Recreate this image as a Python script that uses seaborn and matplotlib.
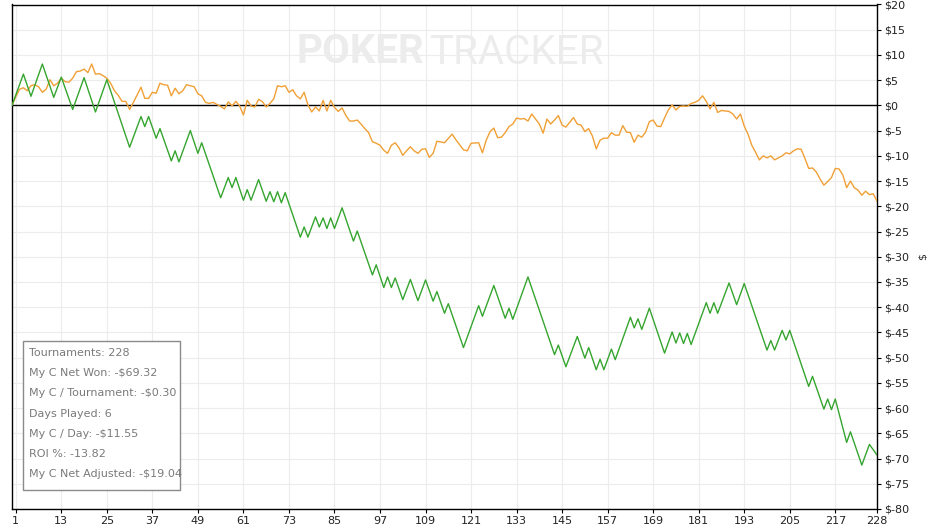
import matplotlib
matplotlib.use("Agg")
import matplotlib.pyplot as plt
import seaborn as sns
from matplotlib.patches import Rectangle

# Cumulative "My C Net Won" (green) - turning points
green_x = [0, 3, 5, 8, 11, 13, 16, 19, 22, 25, 31, 34, 35, 36, 38, 39, 42, 43, 44, 47,
           49, 50, 55, 57, 58, 59, 61, 62, 63, 65, 67, 68, 69, 70, 71, 72, 76, 77, 78, 80,
           81, 82, 83, 84, 85, 87, 90, 91, 95, 96, 98, 99, 100, 101, 103, 105, 107, 109, 111, 112,
           114, 115, 119, 123, 124, 127, 130, 131, 132, 136, 143, 144, 146, 149, 151, 152, 154, 155, 156, 158,
           159, 163, 164, 165, 166, 168, 172, 174, 175, 176, 177, 178, 179, 183, 184, 185, 186, 189, 191, 193,
           199, 200, 201, 203, 204, 205, 210, 211, 214, 215, 216, 217, 220, 221, 224, 226, 228]
green_y = [0, 6.2, 1.8, 8.2, 1.6, 5.6, -0.8, 5.5, -1.3, 5.1, -8.3, -2.2, -4.2, -2.2, -6.5, -4.6, -11.0, -9.0, -11.2, -5.0,
           -9.5, -7.4, -18.3, -14.3, -16.3, -14.3, -18.8, -16.7, -18.8, -14.7, -19.0, -17.1, -19.1, -17.1, -19.3, -17.3, -26.1, -24.1, -26.1, -22.1,
           -24.1, -22.3, -24.4, -22.3, -24.4, -20.3, -26.9, -24.9, -33.6, -31.6, -36.1, -34.0, -36.1, -34.2, -38.5, -34.5, -38.7, -34.6, -38.8, -36.9,
           -41.2, -39.3, -48.0, -39.7, -41.8, -35.7, -42.2, -40.2, -42.4, -34.0, -49.4, -47.5, -51.8, -45.8, -50.1, -48.0, -52.4, -50.3, -52.4, -48.3,
           -50.4, -42.0, -44.1, -42.3, -44.4, -40.2, -49.1, -44.9, -47.1, -45.1, -47.2, -45.2, -47.4, -39.1, -41.2, -39.1, -41.2, -35.2, -39.5, -35.3,
           -48.5, -46.6, -48.5, -44.6, -46.5, -44.6, -55.7, -53.7, -60.2, -58.2, -60.3, -58.2, -66.8, -64.7, -71.3, -67.2, -69.3]

# Cumulative "My C Net Adjusted" (orange)
orange_x = [0, 1, 2, 3, 4, 5, 6, 7, 8, 9, 10, 11, 12, 13, 14, 15, 16, 17, 18, 19,
            20, 21, 22, 23, 24, 25, 26, 27, 28, 29, 30, 31, 32, 33, 34, 35, 36, 37, 38, 39,
            40, 41, 42, 43, 44, 45, 46, 47, 48, 49, 50, 51, 52, 53, 54, 55, 56, 57, 58, 59,
            60, 61, 62, 63, 64, 65, 66, 67, 68, 69, 70, 71, 72, 73, 74, 75, 76, 77, 78, 79,
            80, 81, 82, 83, 84, 85, 86, 87, 88, 89, 90, 91, 92, 93, 94, 95, 96, 97, 98, 99,
            100, 101, 102, 103, 104, 105, 106, 107, 108, 109, 110, 111, 112, 114, 116, 117, 118, 119, 120, 121,
            123, 124, 125, 126, 127, 128, 129, 130, 131, 132, 133, 134, 135, 136, 137, 138, 139, 140, 141, 142,
            143, 144, 145, 146, 148, 149, 150, 151, 152, 153, 154, 155, 156, 157, 158, 159, 160, 161, 162, 163,
            164, 165, 166, 167, 168, 169, 170, 171, 172, 173, 174, 175, 176, 177, 178, 179, 180, 181, 182, 183,
            184, 185, 186, 187, 188, 189, 190, 191, 192, 193, 194, 195, 196, 197, 198, 199, 200, 201, 202, 203,
            204, 205, 206, 207, 208, 209, 210, 211, 212, 213, 214, 215, 216, 217, 218, 219, 220, 221, 222, 223,
            224, 225, 226, 227, 228]
orange_y = [0, 1.7, 3.2, 3.5, 2.9, 3.9, 4.1, 3.7, 2.6, 3.2, 5.1, 3.9, 4.4, 5.4, 4.7, 4.6, 5.4, 6.7, 6.8, 7.2,
            6.5, 8.2, 6.2, 6.3, 5.9, 5.4, 4.4, 2.9, 2.0, 0.8, 0.8, -0.8, 0.6, 2.1, 3.6, 1.4, 1.4, 2.6, 2.4, 4.4,
            4.1, 4.0, 1.9, 3.4, 2.3, 2.9, 4.1, 3.9, 3.7, 2.3, 1.9, 0.6, 0.4, 0.6, 0.2, -0.2, -0.7, 0.7, -0.1, 0.8,
            -0.1, -1.9, 1.0, -0.1, -0.3, 1.2, 0.75, -0.3, 0.4, 1.3, 3.9, 3.7, 3.9, 2.6, 3.1, 1.9, 1.3, 2.6, 0.1, -1.3,
            -0.3, -1.1, 1.0, -1.1, 1.0, -0.4, -1.2, -0.5, -2.0, -3.1, -3.1, -2.9, -3.7, -4.6, -5.4, -7.2, -7.5, -7.9, -8.9, -9.5,
            -7.9, -7.4, -8.4, -9.9, -9.0, -8.2, -9.0, -9.5, -8.7, -8.6, -10.3, -9.5, -7.1, -7.4, -5.7, -6.8, -7.8, -8.8, -9.0, -7.5,
            -7.4, -9.4, -6.9, -5.2, -4.5, -6.4, -6.3, -5.4, -4.2, -3.7, -2.5, -2.7, -2.6, -3.1, -1.7, -2.7, -3.7, -5.5, -2.7, -3.7,
            -2.9, -2.0, -3.9, -4.3, -2.4, -3.7, -3.9, -5.2, -4.6, -6.1, -8.6, -6.9, -6.5, -6.5, -5.4, -5.9, -5.9, -4.0, -5.3, -5.4,
            -7.3, -5.9, -6.3, -5.3, -3.2, -2.9, -4.1, -4.2, -2.5, -0.9, 0.1, -0.9, -0.2, -0.1, -0.2, 0.4, 0.6, 1.0, 1.9, 0.8,
            -0.7, 0.6, -1.4, -1.0, -1.1, -1.2, -1.7, -2.7, -1.7, -4.1, -5.7, -7.9, -9.3, -10.8, -10.0, -10.4, -10.0, -10.8, -10.4, -10.0,
            -9.4, -9.6, -9.0, -8.6, -8.7, -10.5, -12.5, -12.4, -13.2, -14.6, -15.8, -15.1, -14.3, -12.5, -12.6, -13.8, -16.3, -15.0, -16.3, -16.8,
            -17.8, -17.0, -17.7, -17.5, -19.0]

x_ticks = [1, 13, 25, 37, 49, 61, 73, 85, 97, 109, 121, 133, 145, 157, 169, 181, 193, 205, 217, 228]
y_ticks = [20, 15, 10, 5, 0, -5, -10, -15, -20, -25, -30, -35, -40, -45, -50, -55, -60, -65, -70, -75, -80]

stats_lines = ["Tournaments: 228",
               "My C Net Won: -$69.32",
               "My C / Tournament: -$0.30",
               "Days Played: 6",
               "My C / Day: -$11.55",
               "ROI %: -13.82",
               "My C Net Adjusted: -$19.04"]

sns.set_style("white")
plt.rcParams['font.family'] = ['DejaVu Sans']

W, H = 927, 531
fig = plt.figure(figsize=(W / 100, H / 100), dpi=100)
ax = fig.add_axes([12 / W, 1 - 509 / H, 865 / W, 504.5 / H])

# watermark
ax.text(0.329, 0.905, "POKER", transform=ax.transAxes, fontsize=29, fontweight='bold',
        family='Roboto', color='#ececec', ha='left', va='center', zorder=0)
ax.text(0.482, 0.905, "TRACKER", transform=ax.transAxes, fontsize=29,
        family='Roboto', color='#ececec', ha='left', va='center', zorder=0)

sns.lineplot(x=orange_x, y=orange_y, color='#f0a035', linewidth=1.0, ax=ax, zorder=3)
sns.lineplot(x=green_x, y=green_y, color='#35a52f', linewidth=1.0, ax=ax, zorder=4)
ax.axhline(0, color='black', linewidth=1.0, zorder=2)

ax.set_xlim(0, 228)
ax.set_ylim(-80, 20)
ax.set_xticks(x_ticks)
ax.set_yticks(y_ticks)
ax.set_yticklabels([f"${v}" for v in y_ticks])
ax.yaxis.tick_right()
ax.yaxis.set_label_position('right')
ax.set_ylabel('$', fontsize=8, color='#333333', labelpad=6)

ax.grid(True, color='#ececec', linewidth=0.8)
ax.set_axisbelow(True)
ax.tick_params(axis='both', direction='out', length=3, width=0.8, labelsize=8,
               colors='black', labelcolor='#222222', pad=2)
ax.tick_params(axis='y', right=True, left=False)
ax.tick_params(axis='x', bottom=True)
for s in ax.spines.values():
    s.set_color('black')
    s.set_linewidth(1.0)

# stats box
fig.patches.append(Rectangle((23 / W, 1 - 490 / H), 157 / W, 149 / H, transform=fig.transFigure,
                             facecolor='white', edgecolor='#8a8a8a', linewidth=1.0, zorder=5))
for k, line in enumerate(stats_lines):
    fig.text(29 / W, 1 - (353 + k * 20.2) / H, line, fontsize=8, color='#7a7a7a',
             ha='left', va='center', zorder=6)

fig.savefig('out.png', dpi=100)
